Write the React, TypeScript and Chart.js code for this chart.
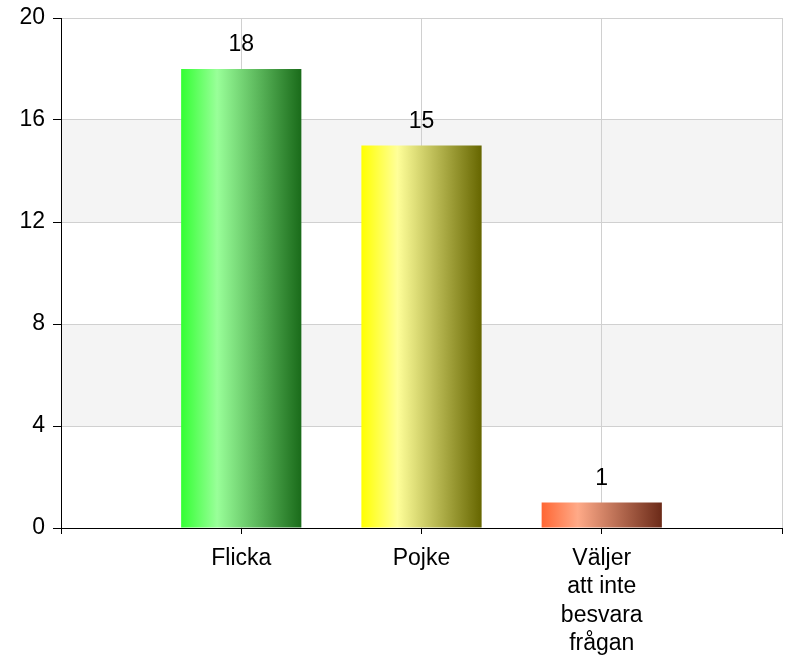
import React, { useEffect, useRef } from "react";
import { Chart, registerables } from "chart.js";

Chart.register(...registerables);

const categories: (string | string[])[] = ["", "Flicka", "Pojke", ["Väljer", "att inte", "besvara", "frågan"], ""];
const values: (number | null)[] = [null, 18, 15, 1, null];
const yTicks = { min: 0, max: 20, step: 4 };
const gradientStops: Record<number, string[]> = {
  1: ["#33ff33", "#99ff99", "#1a6b1a"],
  2: ["#ffff00", "#ffff99", "#666600"],
  3: ["#ff6633", "#ffaa88", "#6b2a18"],
};

const FONT = "'Liberation Sans', Arial, sans-serif";

export default function App() {
  const ref = useRef<HTMLCanvasElement | null>(null);

  useEffect(() => {
    document.body.style.margin = "0";
    const canvas = ref.current;
    if (!canvas) return;

    const bandsPlugin = {
      id: "bands",
      beforeDraw(chart: any) {
        const { ctx, chartArea } = chart;
        const y = chart.scales.y;
        ctx.save();
        ctx.fillStyle = "#f4f4f4";
        [[12, 16], [4, 8]].forEach(([a, b]) => {
          const top = y.getPixelForValue(b);
          const bot = y.getPixelForValue(a);
          ctx.fillRect(chartArea.left, top, chartArea.right - chartArea.left, bot - top);
        });
        ctx.restore();
      },
    };

    const labelsPlugin = {
      id: "valueLabels",
      afterDatasetsDraw(chart: any) {
        const { ctx } = chart;
        const meta = chart.getDatasetMeta(0);
        ctx.save();
        ctx.font = `23px ${FONT}`;
        ctx.fillStyle = "#000";
        ctx.textAlign = "center";
        ctx.textBaseline = "alphabetic";
        meta.data.forEach((bar: any, i: number) => {
          const v = values[i];
          if (v == null) return;
          ctx.fillText(String(v), bar.x, bar.y - 18);
        });
        ctx.restore();
      },
    };

    const chart = new Chart(canvas, {
      type: "bar",
      data: {
        labels: categories,
        datasets: [
          {
            data: values,
            backgroundColor: (c: any) => {
              const chart = c.chart;
              const i = c.dataIndex;
              const stops = gradientStops[i] || ["#888", "#aaa", "#444"];
              const xs = chart.scales?.x;
              if (!chart.chartArea || !xs) return stops[0];
              const cx = xs.getPixelForValue(i);
              const step = xs.getPixelForValue(1) - xs.getPixelForValue(0);
              const half = (step * 0.667) / 2;
              const g = chart.ctx.createLinearGradient(cx - half, 0, cx + half, 0);
              g.addColorStop(0, stops[0]);
              g.addColorStop(0.3, stops[1]);
              g.addColorStop(1, stops[2]);
              return g;
            },
            borderWidth: 0,
            categoryPercentage: 0.667,
            barPercentage: 1,
          },
        ],
      },
      options: {
        animation: false,
        responsive: false,
        maintainAspectRatio: false,
        layout: { padding: { top: 18, right: 8, left: 0, bottom: 0 } },
        plugins: { legend: { display: false }, tooltip: { enabled: false } },
        scales: {
          x: {
            type: "category",
            offset: false,
            grid: { offset: false, color: "#d0d0d0", tickColor: "#000", tickLength: 6, drawOnChartArea: true },
            border: { color: "#000", width: 1 },
            ticks: {
              color: "#000",
              font: { family: FONT, size: 23, lineHeight: 1.24 },
              padding: 10,
              maxRotation: 0,
              autoSkip: false,
            },
            afterFit(scale: any) {
              scale.height = 134;
              scale.paddingLeft = 0;
              scale.paddingRight = 0;
            },
          },
          y: {
            min: yTicks.min,
            max: yTicks.max,
            grid: { color: "#d0d0d0", tickColor: "#000", tickLength: 8 },
            border: { color: "#000", width: 1 },
            ticks: {
              stepSize: yTicks.step,
              color: "#000",
              font: { family: FONT, size: 23, lineHeight: 1 },
              padding: 8,
            },
            afterFit(scale: any) {
              scale.width = 61;
              scale.paddingTop = 0;
              scale.paddingBottom = 0;
            },
          },
        },
      },
      plugins: [bandsPlugin, labelsPlugin],
    } as any);

    return () => chart.destroy();
  }, []);

  return (
    <div style={{ width: 790, height: 662 }}>
      <canvas ref={ref} width={790} height={662} style={{ width: 790, height: 662, display: "block" }} />
    </div>
  );
}
